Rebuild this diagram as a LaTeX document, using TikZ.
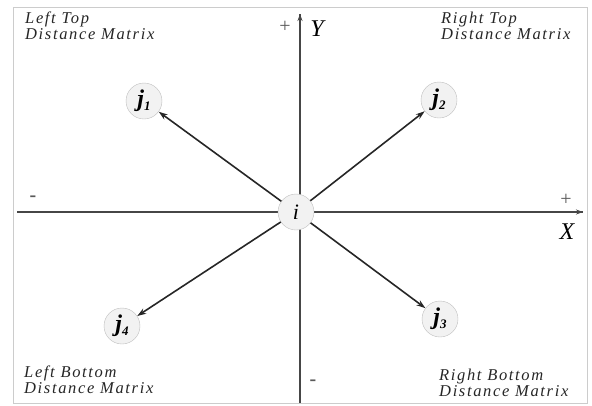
\documentclass[tikz,border=0pt]{standalone}
\usepackage{fontspec}
\usepackage{amsmath}
\setmainfont{Liberation Serif}
\newfontfamily\quadfont[LetterSpace=10]{Liberation Serif}
\definecolor{axisGray}{RGB}{70,70,70}
\definecolor{ringGray}{RGB}{190,190,190}
\definecolor{fillGray}{RGB}{242,242,242}
\usetikzlibrary{arrows.meta,positioning}

\newcommand{\jpt}[1]{\textbf{\textit{j}}\raisebox{-0.35ex}{\fontsize{13}{13}\selectfont\textbf{\textit{#1}}}}

\begin{document}
\begin{tikzpicture}[x=1pt, y=-1pt,
  pt/.style={circle, draw=ringGray, fill=fillGray, minimum size=36pt, inner sep=0pt,
             font=\fontsize{24}{24}\selectfont},
  quad/.style={font=\quadfont\itshape\fontsize{16.5}{16}\selectfont, align=left,
               text=black!85, inner sep=0pt},
  axis/.style={-{Stealth[length=7pt,width=5pt]}, axisGray, line width=1.2pt},
  link/.style={-{Stealth[length=9pt,width=6pt]}, black!85, line width=1.6pt},
  sgn/.style={font=\fontsize{20}{20}\selectfont, text=black!65}
]
  \useasboundingbox (0,0) rectangle (592,405);
  \draw[black!20, line width=0.8pt] (13,7) rectangle (587,403);

  % axes
  \coordinate (xl) at (17,212);
  \coordinate (xr) at (583,212);
  \coordinate (yb) at (300,403);
  \coordinate (yt) at (300,14);
  \draw[axisGray, line width=1.2pt] (xl) -- (xr);
  \draw[axis] (300,212) -- (xr);
  \draw[axisGray, line width=1.2pt] (yb) -- (yt);
  \draw[axis] (300,212) -- (yt);

  \node[sgn] (yplus)  at (285,27)  {+};
  \node[font=\itshape\fontsize{24}{24}\selectfont] (ylab) at (317,29) {Y};
  \node[sgn] (xplus)  at (566,200) {+};
  \node[font=\itshape\fontsize{24}{24}\selectfont] (xlab) at (567,232) {X};
  \node[sgn, font=\bfseries\fontsize{20}{20}\selectfont] (xminus) at (33,199)  {-};
  \node[sgn, font=\bfseries\fontsize{20}{20}\selectfont] (yminus) at (313,383) {-};

  % points
  \node[pt, font=\itshape\fontsize{22}{22}\selectfont] (i) at (296,212) {i};
  \node[pt] (j1) at (144,101) {\jpt{1}};
  \node[pt] (j2) at (439,100) {\jpt{2}};
  \node[pt] (j3) at (440,319) {\jpt{3}};
  \node[pt] (j4) at (122,326) {\jpt{4}};

  \foreach \j in {j1,j2,j3,j4}
    \draw[link] (i) -- (\j);

  % quadrant captions
  \node[quad, anchor=north west] (lt) at (25,12)  {Left Top\\Distance Matrix};
  \node[quad, anchor=north west] (rt) at (441,12) {Right Top\\Distance Matrix};
  \node[quad, anchor=north west] (lb) at (24,366) {Left Bottom\\Distance Matrix};
  \node[quad, anchor=north west] (rb) at (439,369) {Right Bottom\\Distance Matrix};
\end{tikzpicture}
\end{document}
